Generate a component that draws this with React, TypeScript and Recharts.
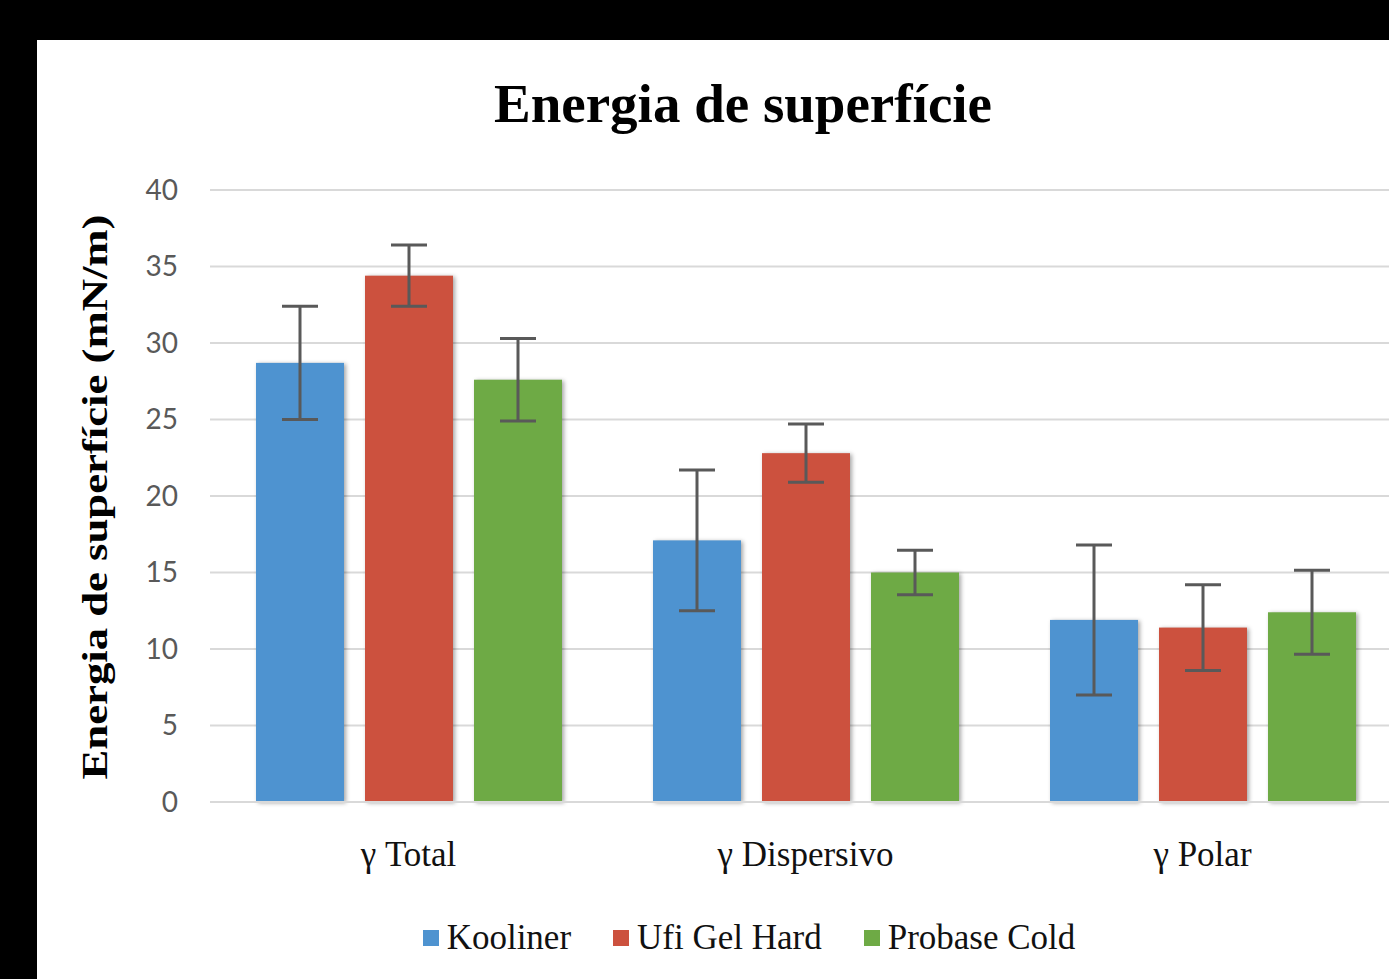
import React from 'react'
import { BarChart, Bar, XAxis, YAxis, CartesianGrid, ErrorBar } from 'recharts'

const categories = ['γ Total', 'γ Dispersivo', 'γ Polar']
const kooliner = [28.7, 17.1, 11.9]
const koolinerErr = [3.7, 4.6, 4.9]
const ufiGelHard = [34.4, 22.8, 11.4]
const ufiGelHardErr = [2.0, 1.9, 2.8]
const probaseCold = [27.6, 15.0, 12.4]
const probaseColdErr = [2.7, 1.45, 2.75]
const yTicks = [0, 5, 10, 15, 20, 25, 30, 35, 40]

const series = [
  { key: 'kooliner', name: 'Kooliner', color: '#4e93d0' },
  { key: 'ufi', name: 'Ufi Gel Hard', color: '#cc513e' },
  { key: 'probase', name: 'Probase Cold', color: '#6eaa45' },
]

const data = categories.map((c, i) => ({
  category: c,
  kooliner: kooliner[i],
  koolinerErr: koolinerErr[i],
  ufi: ufiGelHard[i],
  ufiErr: ufiGelHardErr[i],
  probase: probaseCold[i],
  probaseErr: probaseColdErr[i],
}))

const serif = '"Liberation Serif", "Times New Roman", serif'

const ShadowBar = (p: any) => (
  <rect
    x={p.x}
    y={p.y}
    width={p.width}
    height={p.height}
    fill={p.fill}
    style={{ filter: 'drop-shadow(2px 1px 2px rgba(0,0,0,0.35))' }}
  />
)

export default function App() {
  return (
    <div style={{ position: 'fixed', left: 0, top: 0, width: 1389, height: 979, background: '#000', overflow: 'hidden' }}>
      <div style={{ position: 'absolute', left: 37, top: 40, width: 1352, height: 939, background: '#fff', overflow: 'hidden' }}>
        <div
          style={{
            position: 'absolute', left: 0, top: 36, width: 1412, textAlign: 'center',
            fontFamily: serif, fontWeight: 'bold', fontSize: 55, lineHeight: 1, color: '#000',
          }}
        >
          Energia de superfície
        </div>
        <BarChart
          width={1400}
          height={939}
          data={data}
          margin={{ top: 150, right: 36, bottom: 97, left: 0 }}
          barCategoryGap={46}
          barGap={21}
        >
          <CartesianGrid vertical={false} stroke="#d9d9d9" strokeWidth={2} />
          <XAxis
            dataKey="category"
            height={80}
            tickLine={false}
            tickSize={0}
            tickMargin={39}
            axisLine={{ stroke: '#d9d9d9', strokeWidth: 2 }}
            tick={{ fontFamily: serif, fontSize: 35, fill: '#111' }}
          />
          <YAxis
            width={173}
            domain={[0, 40]}
            ticks={yTicks}
            tickLine={false}
            axisLine={false}
            tickSize={0}
            tickMargin={32}
            tick={{ fontFamily: 'Lato, "Open Sans", sans-serif', fontSize: 28, fill: '#595959' }}
            label={{
              content: () => (
                <text
                  x={58}
                  y={457}
                  transform="rotate(-90 58 457)"
                  textAnchor="middle"
                  dominantBaseline="central"
                  fontFamily={serif}
                  fontWeight="bold"
                  fontSize={36}
                  textLength={565}
                  lengthAdjust="spacingAndGlyphs"
                  fill="#000"
                >
                  Energia de superfície (mN/m)
                </text>
              ),
            }}
          />
          {series.map((s) => (
            <Bar key={s.key} dataKey={s.key} name={s.name} fill={s.color} barSize={88} shape={ShadowBar} isAnimationActive={false}>
              <ErrorBar dataKey={s.key + 'Err'} width={18} strokeWidth={3} stroke="#595959" />
            </Bar>
          ))}
        </BarChart>
        <div
          style={{
            position: 'absolute', left: 4, top: 880, width: 1416, display: 'flex', justifyContent: 'center',
            fontFamily: serif, fontSize: 35, lineHeight: 1, color: '#111',
          }}
        >
          {series.map((s) => (
            <div key={s.key} style={{ display: 'flex', alignItems: 'center', margin: '0 21px' }}>
              <span style={{ display: 'inline-block', width: 16, height: 16, background: s.color, marginRight: 8 }} />
              <span>{s.name}</span>
            </div>
          ))}
        </div>
      </div>
    </div>
  )
}
